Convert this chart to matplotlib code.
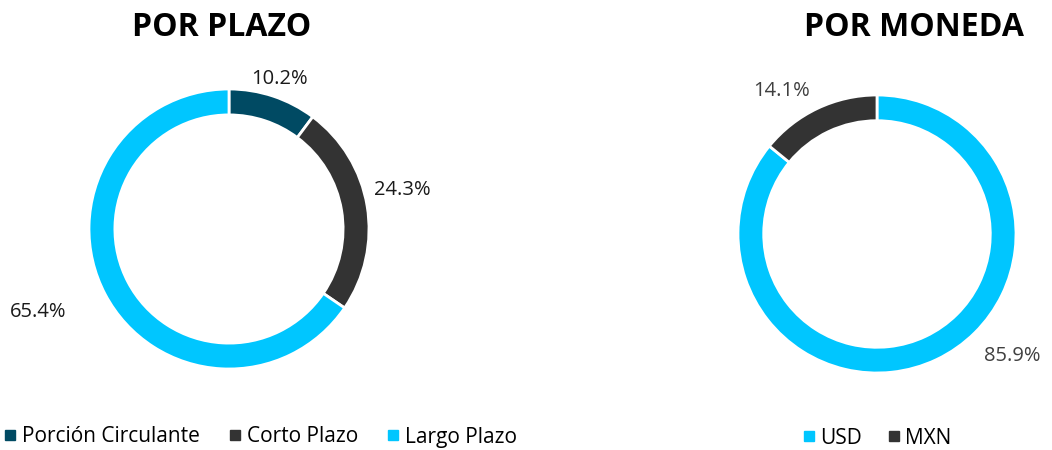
import numpy as np
import matplotlib.pyplot as plt
from matplotlib.lines import Line2D

plt.rcParams['font.family'] = ['Open Sans', 'DejaVu Sans']

# data
plazo_labels = ['Porción Circulante', 'Corto Plazo', 'Largo Plazo']
plazo_values = [10.2, 24.3, 65.4]
plazo_colors = ['#004A63', '#333333', '#00C6FF']

moneda_labels = ['USD', 'MXN']
moneda_values = [85.9, 14.1]
moneda_colors = ['#00C6FF', '#333333']

W, H = 1052, 450
fig = plt.figure(figsize=(W / 100, H / 100), dpi=100)


def donut(cx, cy, r, values, colors, label_pos, label_color):
    ax = fig.add_axes([(cx - r) / W, (H - cy - r) / H, 2 * r / W, 2 * r / H])
    ax.pie(values, colors=colors, startangle=90, counterclock=False,
           wedgeprops=dict(width=0.185, edgecolor='white', linewidth=2))
    ax.set_xlim(-1, 1)
    ax.set_ylim(-1, 1)
    ax.set_aspect('equal')
    ax.axis('off')
    for v, (px, py) in zip(values, label_pos):
        ax.text(px, py, f'{v:.1f}%', ha='center', va='center', fontsize=14.5,
                color=label_color, clip_on=False)
    return ax


# label positions in units of the outer radius (layout only)
donut(229, 229, 140, plazo_values, plazo_colors,
      [(0.36, 1.07), (1.24, 0.28), (-1.36, -0.59)], '#1a1a1a')
donut(877, 234, 139, moneda_values, moneda_colors,
      [(0.97, -0.88), (-0.69, 1.03)], '#404040')

fig.text(222 / W, 1 - 27 / H, 'POR PLAZO', ha='center', va='center',
         fontsize=23, fontweight='bold', color='black')
fig.text(914 / W, 1 - 27 / H, 'POR MONEDA', ha='center', va='center',
         fontsize=23, fontweight='bold', color='black')


def handles(labels, colors):
    return [Line2D([], [], marker='s', linestyle='none', markersize=6.5,
                   markerfacecolor=c, markeredgecolor=c, label=l)
            for l, c in zip(labels, colors)]


fig.legend(handles=handles(plazo_labels, plazo_colors), loc='center left',
           bbox_to_anchor=(0.0, 1 - 437 / H), ncol=3, frameon=False,
           fontsize=15, handletextpad=0.25, columnspacing=1.4, handlelength=0.6,
           borderaxespad=0.1, borderpad=0.1)
fig.legend(handles=handles(moneda_labels, moneda_colors), loc='center',
           bbox_to_anchor=(877 / W, 1 - 438 / H), ncol=2, frameon=False,
           fontsize=15, handletextpad=0.25, columnspacing=1.2, handlelength=0.6,
           borderpad=0.1)

fig.savefig('out.png', dpi=100)
